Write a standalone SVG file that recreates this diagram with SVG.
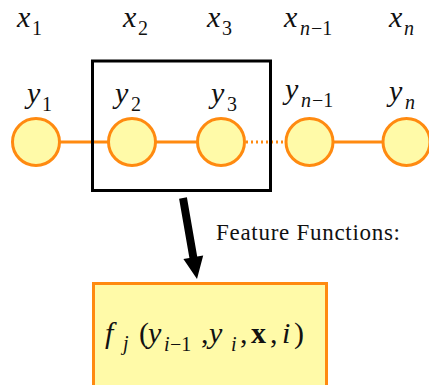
<svg xmlns="http://www.w3.org/2000/svg" width="429" height="385" viewBox="0 0 429 385">
<style>
.node{fill:#FFFAA8;stroke:#FF8A10;stroke-width:3}
.edge{stroke:#FF8A10;stroke-width:3;fill:none}
text{font-family:'Liberation Serif','Times New Roman',Times,'DejaVu Serif',serif;fill:#111}
.m{font-style:italic;font-size:30px}
.s{font-size:20px}
.si{font-style:italic;font-size:20px}
.lbl{font-size:23px}
</style>
<rect width="429" height="385" fill="#fff"/>
<g id="connectors">
<line class="edge" x1="60" y1="142" x2="108" y2="142"/>
<line class="edge" x1="156" y1="142" x2="197" y2="142"/>
<line class="edge" x1="246" y1="142" x2="286" y2="142" stroke-dasharray="2 3"/>
<line class="edge" x1="334" y1="142" x2="383" y2="142"/>
<polygon points="179.1,198.7 186.9,197.3 197.2,256.6 203.2,255.6 197,279 183.4,259 189.4,258" fill="#000"/>
</g>
<g id="window"><rect x="92.5" y="61" width="178" height="129.5" fill="none" stroke="#000" stroke-width="3"/></g>
<g id="x-labels">
<text x="17" y="27" class="m">x</text><text x="32" y="35" class="s">1</text>
<text x="123" y="27" class="m">x</text><text x="138" y="35" class="s">2</text>
<text x="207" y="27" class="m">x</text><text x="222" y="35" class="s">3</text>
<text x="284" y="27" class="m">x</text><text x="300" y="35" class="si">n</text><text x="311" y="35" class="s">−1</text>
<text x="389" y="27" class="m">x</text><text x="404" y="35" class="si">n</text>
</g>
<g id="y1"><circle class="node" cx="36" cy="142" r="23.5"/><text x="27" y="103" class="m">y</text><text x="42" y="111" class="s">1</text></g>
<g id="y2"><circle class="node" cx="132" cy="142" r="23.5"/><text x="115" y="103" class="m">y</text><text x="131" y="111" class="s">2</text></g>
<g id="y3"><circle class="node" cx="221" cy="142" r="23.5"/><text x="211" y="103" class="m">y</text><text x="227" y="111" class="s">3</text></g>
<g id="yn-1"><circle class="node" cx="309.5" cy="142" r="23.5"/><text x="285" y="99" class="m">y</text><text x="301" y="107" class="si">n</text><text x="312" y="107" class="s">−1</text></g>
<g id="yn"><circle class="node" cx="406.5" cy="142" r="23.5"/><text x="389" y="101" class="m">y</text><text x="405" y="109" class="si">n</text></g>
<g id="label"><text x="216" y="240" class="lbl" textLength="184">Feature Functions:</text></g>
<g id="feature">
<rect x="93.5" y="283.5" width="233" height="110" fill="#FFFAA8" stroke="#FF8A10" stroke-width="3"/>
<text y="343" class="m" font-size="31px"><tspan x="105">f</tspan><tspan x="139" font-style="normal">(</tspan><tspan x="148">y</tspan><tspan x="201" font-style="normal">,</tspan><tspan x="209">y</tspan><tspan x="240" font-style="normal">,</tspan><tspan x="251" font-style="normal" font-weight="bold">x</tspan><tspan x="270" font-style="normal">,</tspan><tspan x="282">i</tspan><tspan x="294" font-style="normal">)</tspan></text>
<text x="123" y="350" class="si">j</text>
<text x="164" y="351" class="si">i</text><text x="170" y="351" class="s">−1</text>
<text x="231" y="351" class="si">i</text>
</g>
</svg>
